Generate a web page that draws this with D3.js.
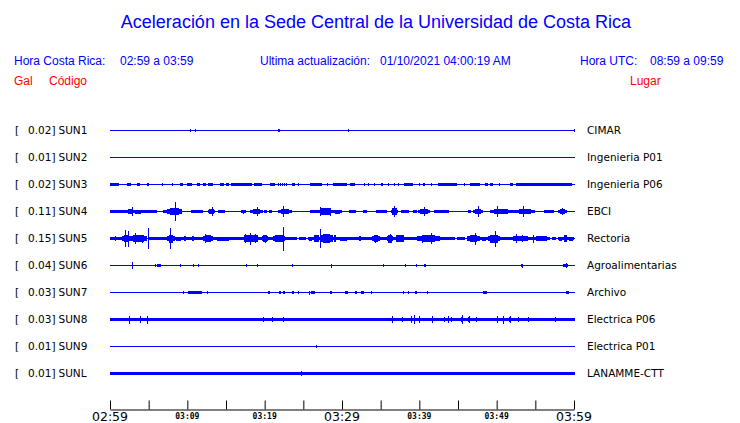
<!DOCTYPE html>
<html><head><meta charset="utf-8">
<script src="https://cdn.jsdelivr.net/npm/d3@7"></script>
<style>body{margin:0;background:#fff}svg{display:block}</style>
</head><body>
<svg id="c" width="740" height="423"></svg>
<script>
// ---------------- DATA ----------------
const title = "Aceleración en la Sede Central de la Universidad de Costa Rica";
const headerLocal = ["Hora Costa Rica:", "02:59 a 03:59"];
const headerUpdate = ["Ultima actualización:", "01/10/2021 04:00:19 AM"];
const headerUTC = ["Hora UTC:", "08:59 a 09:59"];
const columnHeads = ["Gal", "Código", "Lugar"];

const codes  = ["SUN1","SUN2","SUN3","SUN4","SUN5","SUN6","SUN7","SUN8","SUN9","SUNL"];
const peaks  = ["0.02","0.01","0.02","0.11","0.15","0.04","0.03","0.03","0.01","0.01"];
const places = ["CIMAR","Ingenieria P01","Ingenieria P06","EBCI","Rectoria","Agroalimentarias","Archivo","Electrica P06","Electrica P01","LANAMME-CTT"];

// background noise half-amplitude (Gal) per station
const noise = [0,0,0,0,0,0,0,0.024,0,0.019];

// minutes after 02:59
const tickMinutes = [0,5,10,15,20,25,30,35,40,45,50,55,60];
const tickLabelMinutes = [0,10,20,30,40,50,60];
const tickLabels = ["02:59","03:09","03:19","03:29","03:39","03:49","03:59"];
const majorLabels = ["02:59","03:29","03:59"];

// bursts: [startMin, endMin, halfAmplitude Gal]; spikes: [min, halfAmplitude Gal]
const sun1Bursts = [[21.72,21.98,0.02]];
const sun1Spikes = [[10.38,0.017],[11.03,0.017],[29.78,0.01],[30.82,0.017],[50.18,0.01],[59.95,0.013]];

const sun2Bursts = [];
const sun2Spikes = [];

const sun3Bursts = [[0,1.16,0.02],[2.20,2.72,0.02],[3.49,3.88,0.02],[4.78,5.04,0.02],[6.72,6.85,0.02],
  [9.05,9.44,0.02],[9.96,10.60,0.02],[11.25,11.64,0.02],[12.03,12.41,0.02],[12.67,13.32,0.02],
  [14.22,14.74,0.02],[15.00,15.39,0.02],[15.65,18.36,0.02],[18.62,19.66,0.02],[20.69,21.34,0.02],
  [23.54,23.92,0.02],[25.86,27.42,0.02],[28.84,30.65,0.02],[31.04,31.68,0.02],[35.04,35.30,0.02],
  [38.02,39.18,0.02],[40.48,40.73,0.02],[42.41,44.87,0.02],[46.55,47.85,0.02],[48.49,48.88,0.02],
  [49.14,49.53,0.02],[51.73,52.11,0.02],[52.50,59.74,0.02]];
const sun3Spikes = [[8.02,0.018],[21.72,0.013],[21.98,0.013],[22.24,0.013],[22.50,0.013],[22.76,0.013],
  [24.31,0.016],[28.06,0.016],[32.85,0.016],[33.36,0.016],[34.14,0.018],[35.95,0.016],[36.73,0.016],
  [37.30,0.016],[39.96,0.016],[41.51,0.016],[45.78,0.016],[50.30,0.016]];

const sun4Bursts = [[0,2.20,0.02],[2.20,2.97,0.035],[2.97,4.27,0.025],[4.27,6.08,0.02],[6.85,7.37,0.02],
  [7.37,9.31,0.04],[9.96,12.54,0.017],[12.67,13.58,0.035],[13.58,15.26,0.017],[16.81,17.72,0.017],
  [18.10,19.78,0.035],[19.78,20.43,0.017],[20.43,21.08,0.013],[21.72,23.54,0.035],[25.86,26.77,0.02],
  [26.77,28.84,0.038],[28.84,30.00,0.025],[30.65,32.07,0.013],[32.59,33.36,0.017],[34.01,36.21,0.015],
  [36.34,37.24,0.038],[37.24,39.05,0.017],[39.05,39.83,0.013],[39.83,41.38,0.03],[41.90,43.84,0.02],
  [46.17,46.81,0.017],[46.94,48.23,0.035],[49.14,51.99,0.035],[51.99,52.37,0.02],[52.37,54.96,0.035],
  [55.60,57.93,0.017],[57.93,59.10,0.03]];
const sun4Spikes = [[2.84,0.06],[8.41,0.115],[13.15,0.055],[17.20,0.025],[19.07,0.06],[22.37,0.065],
  [27.16,0.06],[28.45,0.05],[36.73,0.065],[40.61,0.055],[47.59,0.07],[50.05,0.07],[53.41,0.07],[58.45,0.04]];

const sun5Bursts = [[0,1.55,0.02],[1.55,2.59,0.04],[2.59,4.78,0.04],[4.91,7.37,0.02],[7.37,8.41,0.05],
  [8.41,9.31,0.025],[9.31,12.03,0.02],[9.44,9.96,0.035],[10.47,10.99,0.03],[12.03,13.32,0.04],
  [13.32,15.91,0.025],[15.91,16.81,0.02],[16.81,19.66,0.038],[19.66,20.43,0.04],[20.43,21.08,0.02],
  [21.08,22.63,0.04],[22.63,24.18,0.02],[24.18,25.60,0.017],[25.60,26.25,0.025],[26.25,27.16,0.038],
  [27.16,28.84,0.058],[28.84,29.35,0.038],[29.35,31.04,0.025],[31.04,33.88,0.02],[32.07,32.59,0.035],
  [33.88,34.91,0.04],[34.91,35.82,0.02],[35.82,36.60,0.05],[36.60,38.41,0.038],[38.41,39.70,0.02],
  [39.70,42.67,0.04],[42.67,44.61,0.02],[44.61,46.17,0.013],[46.17,47.85,0.04],[47.85,48.88,0.025],
  [48.88,50.43,0.05],[50.43,51.47,0.02],[51.47,54.70,0.035],[54.70,56.90,0.03],[56.90,57.93,0.017],
  [57.93,58.58,0.025],[58.58,59.23,0.038],[59.23,60,0.025]];
const sun5Spikes = [[0.65,0.035],[1.94,0.11],[2.33,0.10],[3.23,0.065],[4.14,0.05],[4.85,0.13],[7.76,0.135],
  [12.28,0.06],[17.46,0.06],[18.10,0.075],[18.75,0.06],[20.04,0.05],[22.37,0.15],[27.16,0.115],
  [27.80,0.05],[34.27,0.05],[36.21,0.06],[40.35,0.05],[41.51,0.065],[47.20,0.075],[49.79,0.10],
  [52.50,0.06],[53.28,0.04],[54.70,0.05]];

const sun6Bursts = [[6.08,6.60,0.02],[28.45,28.84,0.017],[39.44,39.83,0.013],[40.48,40.99,0.017],
  [49.92,50.43,0.01],[53.02,53.54,0.017],[58.58,59.23,0.02]];
const sun6Spikes = [[2.81,0.04],[5.88,0.017],[9.05,0.013],[10.73,0.013],[11.38,0.013],[17.59,0.013],
  [19.01,0.017],[21.98,0.01],[23.54,0.013],[28.58,0.025],[35.30,0.013],[38.15,0.017],[53.28,0.025],[58.97,0.035]];

const sun7Bursts = [[9.31,9.70,0.017],[10.09,11.90,0.02],[20.30,20.82,0.017],[21.85,22.11,0.013],
  [22.37,22.63,0.013],[23.41,23.92,0.017],[25.73,26.77,0.018],[28.45,28.71,0.02],[29.48,29.74,0.01],
  [30.39,30.78,0.02],[31.68,31.94,0.013],[32.33,32.97,0.017],[37.76,38.15,0.017],[38.41,38.79,0.017],
  [39.31,39.83,0.017],[48.10,48.88,0.013],[58.84,59.48,0.017]];
const sun7Spikes = [[3.88,0.01],[12.54,0.02],[24.31,0.013],[24.83,0.01],[25.73,0.025],[33.75,0.013],
  [40.99,0.017],[44.48,0.01]];

const sun8Bursts = [[39.18,39.57,0.03],[45.26,45.78,0.03],[46.17,46.55,0.03],[49.92,50.30,0.03],
  [50.69,51.08,0.035],[51.47,51.99,0.035]];
const sun8Spikes = [[2.46,0.05],[3.88,0.04],[4.78,0.05],[19.78,0.035],[20.95,0.035],[22.37,0.035],
  [36.47,0.045],[37.76,0.035],[38.92,0.045],[39.31,0.055],[39.96,0.045],[41.64,0.045],[43.19,0.035],
  [43.71,0.045],[44.10,0.035],[45.52,0.055],[46.36,0.045],[47.33,0.035],[50.05,0.045],[50.82,0.05],
  [51.73,0.045],[52.76,0.035],[54.05,0.035],[57.54,0.035]];

const sun9Bursts = [];
const sun9Spikes = [[19.66,0.012],[22.37,0.012],[26.64,0.02],[46.17,0.012]];

const sunlBursts = [];
const sunlSpikes = [[24.70,0.03],[59.95,0.022]];

const allBursts = [sun1Bursts,sun2Bursts,sun3Bursts,sun4Bursts,sun5Bursts,sun6Bursts,sun7Bursts,sun8Bursts,sun9Bursts,sunlBursts];
const allSpikes = [sun1Spikes,sun2Spikes,sun3Spikes,sun4Spikes,sun5Spikes,sun6Spikes,sun7Spikes,sun8Spikes,sun9Spikes,sunlSpikes];

// ---------------- DRAW ----------------
const BLUE = "#0000ff", RED = "#ff0000";
const svg = d3.select("#c");
const x = d3.scaleLinear().domain([0,60]).range([110,574]);
const amp = d3.scaleLinear().domain([0,0.15]).range([0,12]);
const rowY = d3.scalePoint().domain(codes).range([130.5,373.5]);

svg.append("text").attr("x",376).attr("y",28).attr("text-anchor","middle")
  .attr("font-family","Liberation Sans, Arial, sans-serif").attr("font-size",18).attr("fill",BLUE).text(title);

const hdr = (t,xx,yy,col,anchor) => svg.append("text").attr("x",xx).attr("y",yy)
  .attr("text-anchor",anchor||"start").attr("font-family","Liberation Sans, Arial, sans-serif")
  .attr("font-size",12).attr("fill",col).text(t);
hdr(headerLocal[0],14,65,BLUE); hdr(headerLocal[1],120,65,BLUE);
hdr(headerUpdate[0],260,65,BLUE); hdr(headerUpdate[1],380,65,BLUE);
hdr(headerUTC[0],580,65,BLUE); hdr(headerUTC[1],650,65,BLUE);
hdr(columnHeads[0],14,85,RED); hdr(columnHeads[1],49,85,RED); hdr(columnHeads[2],630,85,RED);

const lab = {"font-family":"DejaVu Sans, sans-serif","font-size":10.5,"fill":"#000"};
codes.forEach((c,i) => {
  const cy = rowY(c);
  const g = svg.append("g");
  const t = (s,xx,anchor) => { const e = g.append("text").attr("x",xx).attr("y",cy+3.5).attr("text-anchor",anchor).text(s);
    Object.entries(lab).forEach(([k,v])=>e.attr(k,v)); };
  t("[",15,"start"); t(peaks[i]+"]",55.5,"end"); t(c,58.5,"start"); t(places[i],587,"start");

  const tr = svg.append("g").attr("fill",BLUE).attr("shape-rendering","crispEdges");
  // base trace line
  tr.append("rect").attr("x",x(0)).attr("width",x(60)-x(0)+1).attr("y",cy-0.5).attr("height",1);
  if (noise[i] > 0)
    tr.append("rect").attr("x",x(0)).attr("width",x(60)-x(0)+1)
      .attr("y",cy-amp(noise[i])).attr("height",2*amp(noise[i]));
  // bursts: stepped envelope (outer at 65% amplitude, core at full amplitude)
  const bg = tr.selectAll("g.b").data(allBursts[i]).join("g").attr("class","b");
  bg.append("rect")
    .attr("x",d=>x(d[0])).attr("width",d=>Math.max(1,x(d[1])-x(d[0])))
    .attr("y",d=>cy-amp(d[2])*0.65).attr("height",d=>2*amp(d[2])*0.65);
  bg.append("rect")
    .attr("x",d=>x(d[0])+(x(d[1])-x(d[0]))*0.2).attr("width",d=>Math.max(1,(x(d[1])-x(d[0]))*0.6))
    .attr("y",d=>cy-amp(d[2])).attr("height",d=>2*amp(d[2]));
  tr.selectAll("rect.s").data(allSpikes[i]).join("rect").attr("class","s")
    .attr("x",d=>Math.round(x(d[0]))).attr("width",1.2)
    .attr("y",d=>cy-amp(d[1])).attr("height",d=>2*amp(d[1]));
});

// time axis
const axis = d3.axisBottom(x).tickValues(tickMinutes).tickSize(-9).tickSizeOuter(0).tickFormat("");
const ag = svg.append("g").attr("transform","translate(0,409.5)").call(axis);
ag.select(".domain").attr("stroke","#000");
ag.selectAll(".tick line").attr("stroke","#000");
tickLabelMinutes.forEach((m,k) => {
  const big = majorLabels.includes(tickLabels[k]);
  svg.append("text").attr("x",x(m)).attr("y",big?421:419).attr("text-anchor","middle")
    .attr("font-family", big ? "DejaVu Sans, sans-serif" : "DejaVu Sans Mono, monospace")
    .attr("font-weight", big ? "normal" : "bold")
    .attr("font-size", big ? 12.5 : 8).attr("fill","#000").text(tickLabels[k]);
});
</script>
</body></html>
